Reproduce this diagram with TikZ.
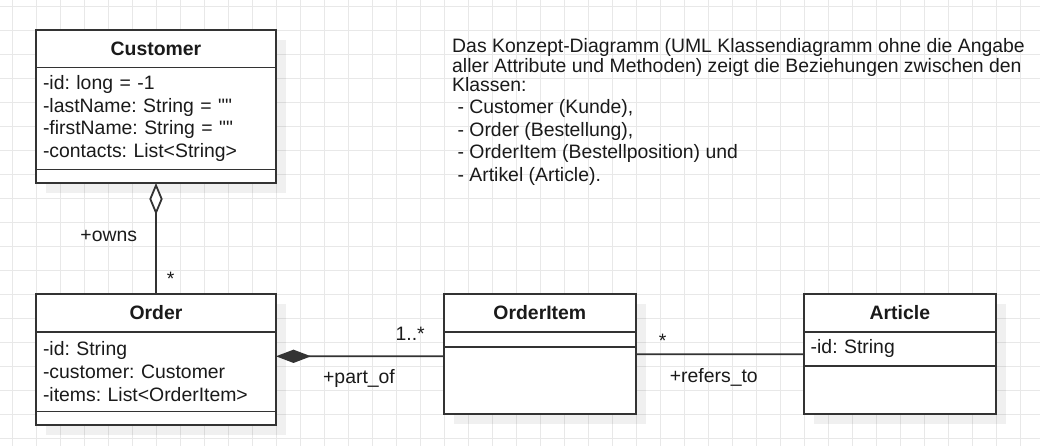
\documentclass[tikz,border=0pt]{standalone}
\usepackage{fontspec}
\setmainfont{Liberation Sans}
\usetikzlibrary{positioning,arrows.meta,backgrounds}

\definecolor{linegray}{HTML}{333333}
\definecolor{textgray}{HTML}{1A1A1A}
\definecolor{gridgray}{HTML}{E8E8E8}

\newcommand{\umlfont}{\fontsize{19.4}{22.6}\selectfont}
\newcommand{\emptystr}{\textquotedbl\textquotedbl}
\frenchspacing

\begin{document}
\begin{tikzpicture}[x=1pt, y=1pt,
    every node/.style={text=textgray, font=\umlfont},
    classhead/.style={draw=linegray, line width=1.8pt, fill=white, inner sep=0pt, outer sep=0pt,
        minimum width=#1, minimum height=37.5pt, font=\umlfont\bfseries},
    classattr/.style={draw=linegray, line width=1.8pt, fill=white, outer sep=0pt,
        inner xsep=7pt, inner ysep=0pt, text width=#1, align=left},
    classops/.style={draw=linegray, line width=1.8pt, fill=white, inner sep=0pt, outer sep=0pt,
        minimum width=#1},
    assoc/.style={draw=linegray, line width=1.8pt},
    lbl/.style={inner sep=0pt},
    gridline/.style={draw=gridgray, line width=1pt},
    classshadow/.style={fill=black, opacity=0.06}]
    \useasboundingbox (0,0) rectangle (1040,-446);

    % Customer
    \node[classhead=240pt] (customer) at (156,-48.75) {Customer};
    \node[classattr=226pt, minimum height=102pt, below=0pt of customer] (customerAttr)
        {-id: long = -1\\-lastName: String = \emptystr\\-firstName: String = \emptystr\\-contacts: List<String>};
    \node[classops=240pt, minimum height=13.5pt, below=0pt of customerAttr] (customerOps) {};

    % Order
    \node[classhead=240pt, below=111.3pt of customerOps] (order) {Order};
    \node[classattr=226pt, minimum height=79.7pt, below=0pt of order] (orderAttr)
        {-id: String\\-customer: Customer\\-items: List<OrderItem>};
    \node[classops=240pt, minimum height=13.3pt, below=0pt of orderAttr] (orderOps) {};

    % OrderItem
    \node[classhead=192.3pt, right=167.7pt of order] (orderItem) {OrderItem};
    \node[classops=192.3pt, minimum height=15.2pt, below=0pt of orderItem] (orderItemAttr) {};
    \node[classops=192.3pt, minimum height=67.3pt, below=0pt of orderItemAttr] (orderItemOps) {};

    % Article
    \node[classhead=192.3pt, right=167.7pt of orderItem] (article) {Article};
    \node[classattr=178.3pt, minimum height=34.2pt, below=0pt of article] (articleAttr) {-id: String};
    \node[classops=192.3pt, minimum height=48.3pt, below=0pt of articleAttr] (articleOps) {};

    % Beschreibung
    \node[anchor=north west, align=left, inner sep=0pt, font=\fontsize{19.4}{19.5}\selectfont] (concept) at (452,-38.6)
        {Das Konzept-Diagramm (UML Klassendiagramm ohne die Angabe\\
         aller Attribute und Methoden) zeigt die Beziehungen zwischen den\\
         Klassen:\\[2.3pt]
         \hspace*{5.4pt}- Customer (Kunde),\\[3pt]
         \hspace*{5.4pt}- Order (Bestellung),\\[3pt]
         \hspace*{5.4pt}- OrderItem (Bestellposition) und\\[3pt]
         \hspace*{5.4pt}- Artikel (Article).};

    % Beziehungen
    \draw[assoc, {Diamond[fill=white, length=32pt, width=13.3pt]}-] (customerOps) -- (order)
        node[lbl, pos=0.48, left=18pt] {+owns}
        node[lbl, pos=0.917, anchor=base west, xshift=10pt] {*};
    \draw[assoc, {Diamond[length=35pt, width=13.3pt]}-] ([yshift=15.35pt]orderAttr.east) -- ([yshift=24.35pt]orderItemOps.west)
        node[lbl, pos=0.8, above=15pt] {1..*}
        node[lbl, pos=0.495, below=12.5pt] {+part\_of};
    \draw[assoc] ([yshift=26.35pt]orderItemOps.east) -- ([yshift=-5.4pt]articleAttr.west)
        node[lbl, pos=0.159, above=6pt] {*}
        node[lbl, pos=0.464, below=13pt] {+refers\_to};

    \begin{scope}[on background layer]
        \fill[white] (0,0) rectangle (1040,-446);
        \foreach \x in {12.5,36.5,...,1040}
            \draw[gridline] (\x,0) -- (\x,-446);
        \foreach \y in {6.5,30.5,...,446}
            \draw[gridline] (0,-\y) -- (1040,-\y);
        \foreach \c/\o in {customer/customerOps, order/orderOps, orderItem/orderItemOps, article/articleOps}
            \fill[classshadow] ([shift={(10,-10)}]\c.north west) rectangle ([shift={(10,-10)}]\o.south east);
    \end{scope}
\end{tikzpicture}
\end{document}
